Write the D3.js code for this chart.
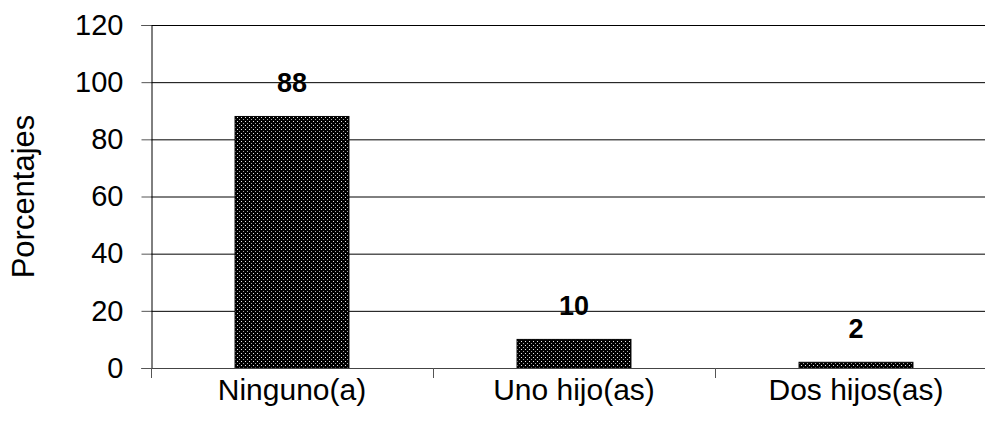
<!DOCTYPE html>
<html><head><meta charset="utf-8">
<script src="https://cdn.jsdelivr.net/npm/d3@7"></script>
<style>body{margin:0;background:#fff}svg{display:block}</style>
</head><body>
<script>
const categories = ["Ninguno(a)", "Uno hijo(as)", "Dos hijos(as)"];
const values = [88, 10, 2];
const yTicks = [0, 20, 40, 60, 80, 100, 120];
const yTitle = "Porcentajes";

const W = 985, H = 430;
const FONT = "Liberation Sans, Arial, sans-serif";
const svg = d3.select("body").append("svg").attr("width", W).attr("height", H);
const defs = svg.append("defs");
const pat = defs.append("pattern").attr("id","dots").attr("patternUnits","userSpaceOnUse")
  .attr("width",4).attr("height",4);
pat.append("rect").attr("width",4).attr("height",4).attr("fill","#000");
pat.append("rect").attr("x",1).attr("y",1).attr("width",1).attr("height",1).attr("fill","#e8e8e8");
pat.append("rect").attr("x",3).attr("y",3).attr("width",1).attr("height",1).attr("fill","#a8a8a8");

const x0 = 151, x1 = 997, yTop = 25, yBot = 368;
const x = d3.scaleBand().domain(categories).range([x0, x1]).paddingInner(0.596).paddingOuter(0.298);
const y = d3.scaleLinear().domain([0, 120]).range([yBot, yTop]);

// gridlines
svg.append("g").selectAll("line").data(yTicks.filter(d=>d>0)).join("line")
  .attr("x1", x0).attr("x2", W).attr("y1", d=>y(d)+0.5).attr("y2", d=>y(d)+0.5)
  .attr("stroke","#000").attr("stroke-width",1);

// bars
svg.append("g").selectAll("rect").data(values).join("rect")
  .attr("x",(d,i)=>x(categories[i])).attr("width",x.bandwidth())
  .attr("y",d=>y(d)).attr("height",d=>yBot-y(d))
  .attr("fill","url(#dots)").attr("stroke","#000").attr("stroke-width",1);

// y axis
const ya = svg.append("g").attr("transform",`translate(${x0+0.5},0)`)
  .call(d3.axisLeft(y).tickValues(yTicks).tickSize(10).tickPadding(18));
ya.select(".domain").attr("stroke","#000");
ya.selectAll(".tick line").attr("stroke","#555");
ya.selectAll("text").attr("font-family",FONT).attr("font-size",29).attr("fill","#000");

// x axis
const step = x.step();
const xb = [0,1,2,3].map(i=>x0 + i*step);
const xa = svg.append("g");
xa.append("line").attr("x1",x0).attr("x2",W).attr("y1",yBot+0.5).attr("y2",yBot+0.5).attr("stroke","#444");
xa.selectAll("line.t").data(xb).join("line").attr("class","t")
  .attr("x1",d=>Math.round(d)+0.5).attr("x2",d=>Math.round(d)+0.5).attr("y1",yBot).attr("y2",yBot+10).attr("stroke","#555");
xa.selectAll("text").data(categories).join("text")
  .attr("x",d=>x(d)+x.bandwidth()/2).attr("y",400).attr("text-anchor","middle")
  .attr("font-family",FONT).attr("font-size",30).text(d=>d);

// value labels
svg.append("g").selectAll("text").data(values).join("text")
  .attr("x",(d,i)=>x(categories[i])+x.bandwidth()/2).attr("y",d=>y(d)-24)
  .attr("text-anchor","middle").attr("font-family",FONT)
  .attr("font-weight","bold").attr("font-size",27).text(d=>d);

// y title
svg.append("text").attr("transform",`translate(34,${(yTop+yBot)/2}) rotate(-90)`)
  .attr("text-anchor","middle").attr("font-family",FONT)
  .attr("font-size",31).text(yTitle);
</script>
</body></html>
